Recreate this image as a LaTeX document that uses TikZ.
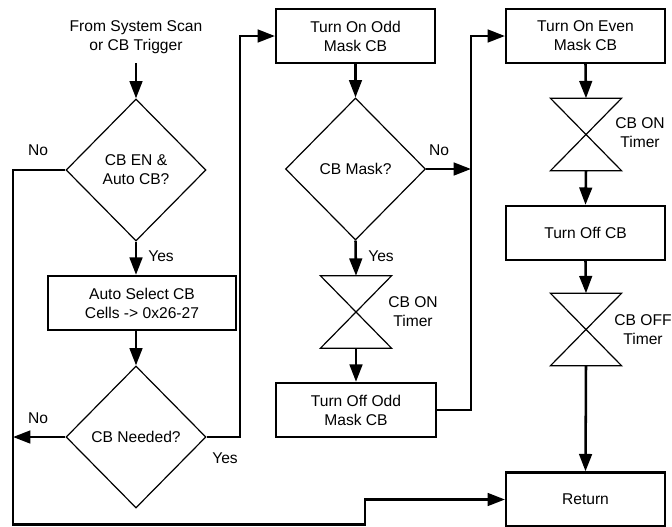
\documentclass[tikz,border=0pt]{standalone}
\usepackage{fontspec}
\setmainfont{Liberation Sans}
\usetikzlibrary{shapes.geometric,arrows.meta}
\begin{document}
\begin{tikzpicture}[x=0.75pt,y=-0.75pt,
  every node/.style={font=\fontsize{11.7}{14.3}\selectfont, align=center, inner sep=0pt},
  boxnode/.style={draw, line width=1.8pt, minimum width=119pt, minimum height=40.5pt},
  decision/.style={diamond, draw, line width=0.9pt, minimum width=105pt, minimum height=106.5pt},
  timerbox/.style={minimum width=53pt, minimum height=54pt},
  conn/.style={line width=1.9pt},
  arr/.style={conn, -{Triangle[length=13pt,width=9.5pt]}},
  lbl/.style={}]
\clip (0,0) rectangle (672,526);
\useasboundingbox (0,0) rectangle (672,526);

% left column
\node (src) at (136,37) {From System Scan\\or CB Trigger};
\coordinate (srcend) at (136,63);
\node[decision] (d1) at (136,170) {CB EN \&\\Auto CB?};
\node[boxnode, minimum width=141pt] (a1) at (142,303) {Auto Select CB\\Cells -> 0x26-27};
\node[decision] (d2) at (136,437) {CB Needed?};

% middle column
\node[boxnode] (b1) at (355.5,36) {Turn On Odd\\Mask CB};
\node[decision] (d3) at (355.5,169) {CB Mask?};
\node[timerbox] (t1) at (356,312) {};
\node[boxnode, minimum width=120pt] (b2) at (356,410) {Turn Off Odd\\Mask CB};

% right column
\node[boxnode] (b3) at (585.5,36) {Turn On Even\\Mask CB};
\node[timerbox] (t2) at (586,134.5) {};
\node[boxnode] (b4) at (585.5,233) {Turn Off CB};
\node[timerbox] (t3) at (586,329.5) {};
\node[boxnode] (ret) at (585.5,499.5) {Return};

% timer shapes
\foreach \t in {t1,t2,t3}{
  \draw[line width=0.9pt] (\t.north west) -- (\t.north east) -- (\t.south west) -- (\t.south east) -- cycle;
}

% labels
\node (n1) at (38,150) {No};
\node (y1) at (161,256) {Yes};
\node (n2) at (38,418) {No};
\node (y2) at (225,458) {Yes};
\node (n3) at (439,150) {No};
\node (y3) at (381,256) {Yes};
\node (l1) at (413,311.5) {CB ON\\Timer};
\node (l2) at (640,133) {CB ON\\Timer};
\node (l3) at (643,329.5) {CB OFF\\Timer};

% helper coordinates
\coordinate (lx) at (13,524.5);
\coordinate (mx) at (365,524.5);
\coordinate (yx) at (240,437);
\coordinate (rx) at (471,410);

% connectors
\draw[arr] (srcend) -- (d1.north);
\draw[arr] (d1.south) -- (d1.south |- a1.north);
\draw[arr] (a1.south -| d2.north) -- (d2.north);
\draw[arr] (d1.west) -| (lx) -- (mx) |- (ret.west);
\draw[arr] (d2.west) -- (d2.west -| lx);
\draw[arr] (d2.east) -- (yx) |- (b1.west);
\draw[arr] (b1.south) -- (d3.north);
\draw[arr] (d3.south) -- (t1.north);
\draw[arr] (t1.south) -- (b2.north);
\draw[arr] (d3.east) -- (d3.east -| rx);
\draw[arr] (b2.east) -- (rx) |- (b3.west);
\draw[arr] (b3.south) -- (t2.north);
\draw[arr] (t2.south) -- (b4.north);
\draw[arr] (b4.south) -- (t3.north);
\draw[arr] (t3.south) -- (ret.north);
\end{tikzpicture}
\end{document}
